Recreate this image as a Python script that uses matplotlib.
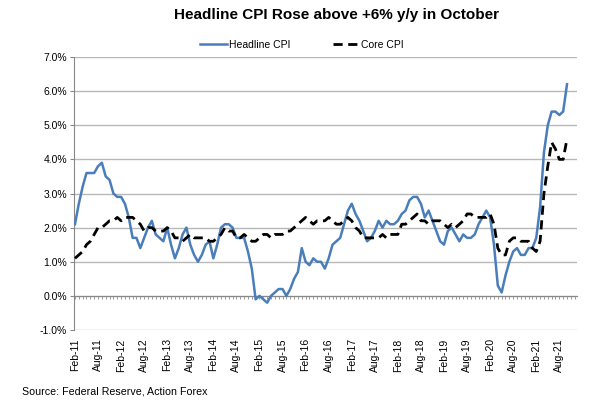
import matplotlib
matplotlib.use("Agg")
import matplotlib.pyplot as plt
import numpy as np

# ---- Data (monthly, Feb-2011 .. Oct-2021), % y/y ----
headline_cpi = [
    2.1, 2.7, 3.2, 3.6, 3.6, 3.6, 3.8, 3.9, 3.5, 3.4, 3.0,                 # 2011 Feb-Dec
    2.9, 2.9, 2.7, 2.3, 1.7, 1.7, 1.4, 1.7, 2.0, 2.2, 1.8, 1.7,            # 2012
    1.6, 2.0, 1.5, 1.1, 1.4, 1.8, 2.0, 1.5, 1.2, 1.0, 1.2, 1.5,            # 2013
    1.6, 1.1, 1.5, 2.0, 2.1, 2.1, 2.0, 1.7, 1.7, 1.7, 1.3, 0.8,            # 2014
    -0.1, 0.0, -0.1, -0.2, 0.0, 0.1, 0.2, 0.2, 0.0, 0.2, 0.5, 0.7,        # 2015
    1.4, 1.0, 0.9, 1.1, 1.0, 1.0, 0.8, 1.1, 1.5, 1.6, 1.7, 2.1,            # 2016
    2.5, 2.7, 2.4, 2.2, 1.9, 1.6, 1.7, 1.9, 2.2, 2.0, 2.2, 2.1,            # 2017
    2.1, 2.2, 2.4, 2.5, 2.8, 2.9, 2.9, 2.7, 2.3, 2.5, 2.2, 1.9,            # 2018
    1.6, 1.5, 1.9, 2.0, 1.8, 1.6, 1.8, 1.7, 1.7, 1.8, 2.1, 2.3,            # 2019
    2.5, 2.3, 1.5, 0.3, 0.1, 0.6, 1.0, 1.3, 1.4, 1.2, 1.2, 1.4,            # 2020
    1.4, 1.7, 2.6, 4.2, 5.0, 5.4, 5.4, 5.3, 5.4, 6.2,                      # 2021 Jan-Oct
]
core_cpi = [
    1.1, 1.2, 1.3, 1.5, 1.6, 1.8, 2.0, 2.0, 2.1, 2.2, 2.2,
    2.3, 2.2, 2.3, 2.3, 2.3, 2.2, 2.1, 1.9, 2.0, 2.0, 1.9, 1.9,
    1.9, 2.0, 1.9, 1.7, 1.7, 1.6, 1.7, 1.8, 1.7, 1.7, 1.7, 1.7,
    1.6, 1.6, 1.7, 1.8, 2.0, 1.9, 1.9, 1.7, 1.7, 1.8, 1.7, 1.6,
    1.6, 1.7, 1.8, 1.8, 1.7, 1.8, 1.8, 1.8, 1.9, 1.9, 2.0, 2.1,
    2.2, 2.3, 2.2, 2.1, 2.2, 2.2, 2.2, 2.3, 2.2, 2.1, 2.1, 2.2,
    2.3, 2.2, 2.0, 1.9, 1.7, 1.7, 1.7, 1.7, 1.7, 1.8, 1.7, 1.8,
    1.8, 1.8, 2.1, 2.1, 2.2, 2.3, 2.4, 2.2, 2.2, 2.1, 2.2, 2.2,
    2.2, 2.1, 2.0, 2.1, 2.0, 2.1, 2.2, 2.4, 2.4, 2.3, 2.3, 2.3,
    2.3, 2.4, 2.1, 1.4, 1.2, 1.2, 1.6, 1.7, 1.7, 1.6, 1.6, 1.6,
    1.4, 1.3, 1.6, 3.0, 3.8, 4.5, 4.3, 4.0, 4.0, 4.6,
]
tick_labels = ["Feb-11", "Aug-11", "Feb-12", "Aug-12", "Feb-13", "Aug-13",
               "Feb-14", "Aug-14", "Feb-15", "Aug-15", "Feb-16", "Aug-16",
               "Feb-17", "Aug-17", "Feb-18", "Aug-18", "Feb-19", "Aug-19",
               "Feb-20", "Aug-20", "Feb-21", "Aug-21"]
y_ticks = [-1, 0, 1, 2, 3, 4, 5, 6, 7]
series_names = ["Headline CPI", "Core CPI"]
title = "Headline CPI Rose above +6% y/y in October"
source = "Source: Federal Reserve, Action Forex"

plt.rcParams["font.family"] = ["Liberation Sans", "DejaVu Sans"]

W, H = 600, 407
fig = plt.figure(figsize=(W / 100, H / 100), dpi=100)
ax = fig.add_axes([74 / W, 1 - 330 / H, (577 - 74) / W, (330 - 57) / H])

x = np.arange(len(headline_cpi))
grid_color = "#b8b8b8"

ax.plot(x, headline_cpi, color="#4a7ebb", lw=1.8, label=series_names[0],
        solid_joinstyle="round", zorder=3)
ax.plot(x, core_cpi, color="black", lw=2.0, linestyle=(0, (3.3, 2)),
        label=series_names[1], zorder=3)

ax.set_xlim(-0.25, 130.6)
ax.set_ylim(-1, 7)
ax.set_yticks(y_ticks)
ax.set_yticklabels([f"{v:.1f}%" for v in y_ticks], fontsize=7.5)
ax.yaxis.grid(True, color=grid_color, lw=1.0)
ax.set_axisbelow(True)
ax.tick_params(axis="y", length=3, width=0.8, color="#888888", pad=2)

for s in ["top", "right"]:
    ax.spines[s].set_visible(False)
ax.spines["left"].set_color("#888888")
ax.spines["left"].set_linewidth(0.8)
# horizontal axis crosses at 0 with monthly tick marks
ax.spines["bottom"].set_position(("data", 0))
ax.spines["bottom"].set_color("#888888")
ax.spines["bottom"].set_linewidth(0.8)
ax.set_xticks(np.arange(0, 131))
ax.tick_params(axis="x", length=2.2, width=0.6, color="#888888",
               labelbottom=False, direction="out")

# labels at the bottom of the plot
sec = ax.secondary_xaxis("bottom")
sec.spines["bottom"].set_visible(False)
sec.set_xticks(np.arange(0, len(tick_labels) * 6, 6))
sec.set_xticklabels(tick_labels, rotation=90, fontsize=7.5)
sec.tick_params(axis="x", length=0, pad=6)

fig.text(337 / W, 1 - 15 / H, title, ha="center", va="center",
         fontsize=11, fontweight="bold")
fig.legend(loc="center", bbox_to_anchor=(302 / W, 1 - 45 / H), ncol=2,
           frameon=False, fontsize=7.5, handlelength=2.6, handletextpad=0.15,
           columnspacing=4.1)
fig.text(22 / W, 1 - 391 / H, source, ha="left", va="center", fontsize=7.7)

fig.savefig("out.png", dpi=100)
